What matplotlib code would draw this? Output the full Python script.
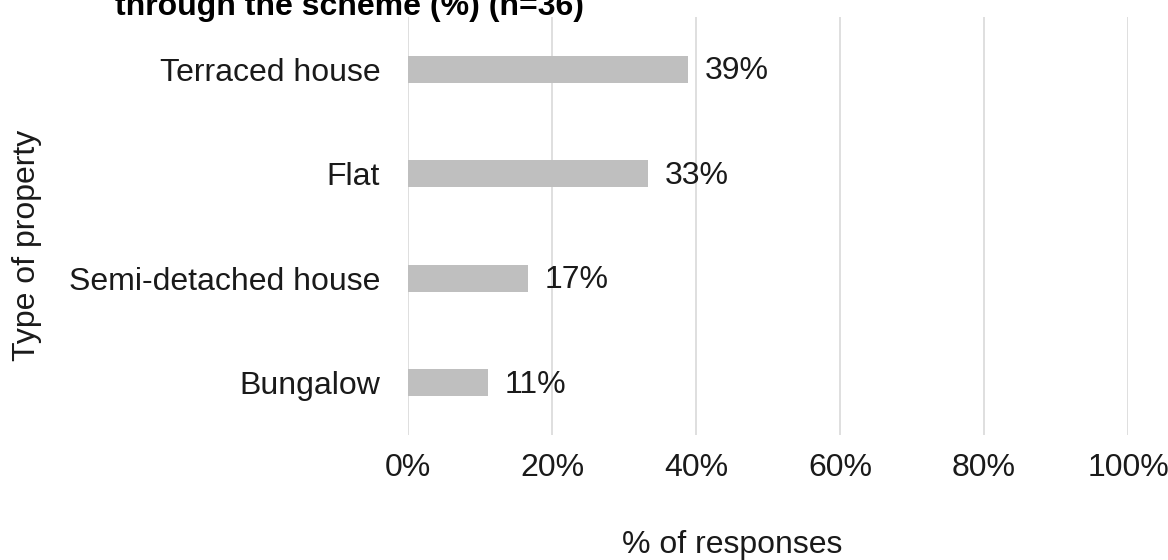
import matplotlib
matplotlib.use("Agg")
import matplotlib.pyplot as plt

categories = ["Terraced house", "Flat", "Semi-detached house", "Bungalow"]
values = [38.9, 33.3, 16.7, 11.1]
value_labels = ["39%", "33%", "17%", "11%"]
xticks = [0, 20, 40, 60, 80, 100]
xtick_labels = ["0%", "20%", "40%", "60%", "80%", "100%"]

plt.rcParams['font.family'] = ['Liberation Sans', 'DejaVu Sans']
TXT = '#1a1a1a'
FS = 23

W, H = 1168, 560
fig = plt.figure(figsize=(W / 100, H / 100), dpi=100)
ax = fig.add_axes([408 / W, 1 - 435 / H, 720 / W, 418 / H])

ypos = list(range(len(categories)))[::-1]
ax.barh(ypos, values, height=0.26, color='#bfbfbf', zorder=3)
for y, v, lab in zip(ypos, values, value_labels):
    ax.annotate(lab, (v, y), xytext=(12, -1.5), textcoords='offset points',
                va='center', ha='left', fontsize=FS, color=TXT)

ax.set_xlim(0, 100)
ax.set_ylim(-0.5, len(categories) - 0.5)
ax.set_xticks(xticks)
ax.set_xticklabels(xtick_labels)
ax.set_yticks(ypos)
ax.set_yticklabels(categories)
ax.tick_params(axis='x', length=0, pad=13, labelsize=FS, labelcolor=TXT)
ax.tick_params(axis='y', length=0, pad=20, labelsize=FS, labelcolor=TXT)
ax.grid(axis='x', color='#d9d9d9', linewidth=1.2, zorder=0)
for s in ax.spines.values():
    s.set_visible(False)

fig.text(27 / W, 1 - 245 / H, "Type of property", rotation=90, ha='center',
         va='center', fontsize=FS, color=TXT)
fig.text(732 / W, 1 - 545 / H, "% of responses", ha='center', va='center',
         fontsize=FS, color=TXT)
fig.text(115 / W, 1 - 15 / H, "through the scheme (%) (n=36)", ha='left',
         va='baseline', fontsize=23, fontweight='bold', color='black')

fig.savefig("out.png", dpi=100)
